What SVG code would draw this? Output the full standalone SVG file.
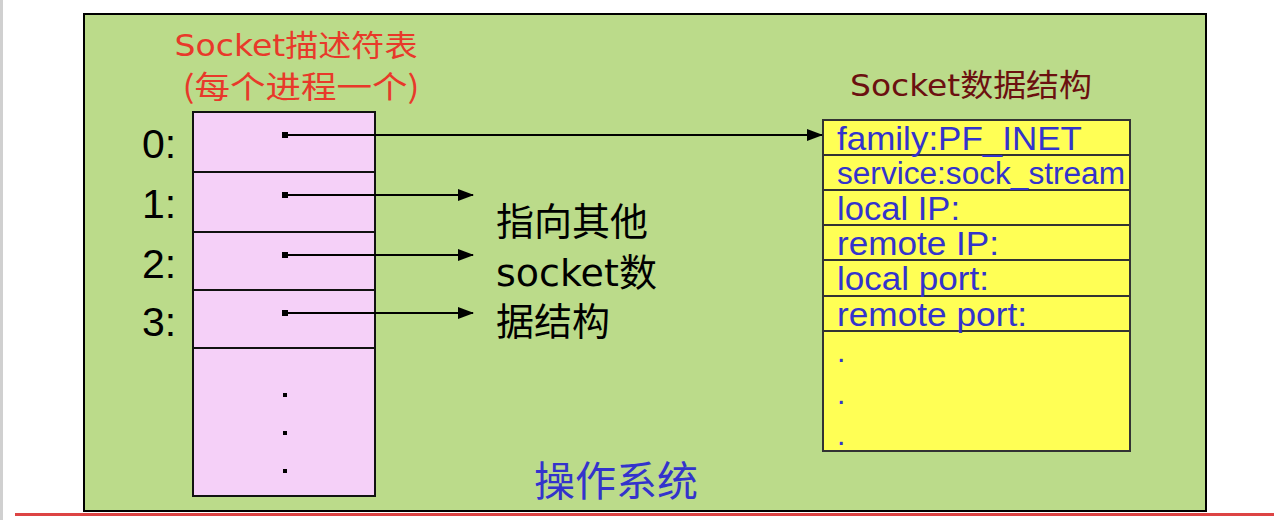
<svg xmlns="http://www.w3.org/2000/svg" width="1274" height="520" viewBox="0 0 1274 520">
<defs>
<style>
.lat{font-family:"DejaVu Sans","Noto Sans","Noto Sans CJK SC",sans-serif}
.cjk{font-family:"Noto Sans CJK SC",sans-serif}
.ar{font-family:"Liberation Sans",Arial,sans-serif;fill:#3333CC}
.cell{fill:#F5D0F8;stroke:#111;stroke-width:2}
.ycell{fill:#FFFF55;stroke:#333;stroke-width:2}
.conn{stroke:#000;stroke-width:2;fill:none}
</style>
<marker id="ah" markerWidth="16" markerHeight="12" refX="15" refY="6" orient="auto" markerUnits="userSpaceOnUse">
<path d="M0,0 L16,6 L0,12 Z" fill="#000"/>
</marker>
</defs>
<rect x="0" y="0" width="1274" height="520" fill="#fff"/>
<rect x="0" y="0" width="3" height="520" fill="#d0d0d0"/>
<rect id="os" x="84" y="14" width="1122" height="497" fill="#BBDB8A" stroke="#000" stroke-width="2"/>
<rect x="15" y="513" width="1259" height="3" fill="#DD4444"/>

<g id="descTitle">
<text x="296" y="56" text-anchor="middle" class="lat" font-size="30" fill="#E8392A" textLength="243" lengthAdjust="spacingAndGlyphs">Socket<tspan class="cjk">描述符表</tspan></text>
<text x="301" y="98" text-anchor="middle" class="cjk" font-size="31" fill="#E8392A" textLength="237" lengthAdjust="spacingAndGlyphs">(每个进程一个)</text>
</g>

<g id="descTable">
<rect class="cell" x="193" y="112" width="182" height="60"/>
<rect class="cell" x="193" y="172" width="182" height="60"/>
<rect class="cell" x="193" y="232" width="182" height="58"/>
<rect class="cell" x="193" y="290" width="182" height="58"/>
<rect class="cell" x="193" y="348" width="182" height="148"/>
<rect x="283" y="393" width="4" height="4" fill="#000"/>
<rect x="283" y="431" width="4" height="4" fill="#000"/>
<rect x="283" y="469" width="4" height="4" fill="#000"/>
</g>

<g id="indexLabels" font-family="'Liberation Sans',Arial,sans-serif" font-size="41" fill="#000">
<text x="142" y="158">0:</text>
<text x="142" y="218">1:</text>
<text x="142" y="278">2:</text>
<text x="142" y="336">3:</text>
</g>

<g id="otherLabel" class="cjk" font-size="38" fill="#000">
<text x="496" y="235">指向其他</text>
<text x="496" y="286"><tspan class="lat">socket</tspan>数</text>
<text x="496" y="335">据结构</text>
</g>

<g id="sockTitle">
<text x="850" y="96" class="lat" font-size="31" fill="#6B1010" textLength="242" lengthAdjust="spacingAndGlyphs">Socket<tspan class="cjk">数据结构</tspan></text>
</g>

<g id="sockStruct">
<rect class="ycell" x="823" y="120" width="307" height="35"/>
<rect class="ycell" x="823" y="155" width="307" height="35"/>
<rect class="ycell" x="823" y="190" width="307" height="35"/>
<rect class="ycell" x="823" y="225" width="307" height="35"/>
<rect class="ycell" x="823" y="260" width="307" height="36"/>
<rect class="ycell" x="823" y="296" width="307" height="35"/>
<rect class="ycell" x="823" y="331" width="307" height="120"/>
<text class="ar" x="837" y="150" font-size="34" textLength="245" lengthAdjust="spacingAndGlyphs">family:PF_INET</text>
<text class="ar" x="837" y="184" font-size="31" textLength="288" lengthAdjust="spacingAndGlyphs">service:sock_stream</text>
<text class="ar" x="837" y="220" font-size="34" textLength="123" lengthAdjust="spacingAndGlyphs">local IP:</text>
<text class="ar" x="837" y="255" font-size="34" textLength="162" lengthAdjust="spacingAndGlyphs">remote IP:</text>
<text class="ar" x="837" y="290" font-size="34" textLength="152" lengthAdjust="spacingAndGlyphs">local port:</text>
<text class="ar" x="837" y="326" font-size="34" textLength="190" lengthAdjust="spacingAndGlyphs">remote port:</text>
<text class="ar" x="837" y="362" font-size="30">.</text>
<text class="ar" x="837" y="404" font-size="30">.</text>
<text class="ar" x="837" y="445" font-size="30">.</text>
</g>

<g id="osLabel">
<text x="534" y="496" class="cjk" font-size="41" fill="#3333CC">操作系统</text>
</g>

<g id="connectors">
<rect x="282" y="132" width="6" height="6" fill="#000"/>
<rect x="282" y="192" width="6" height="6" fill="#000"/>
<rect x="282" y="252" width="6" height="6" fill="#000"/>
<rect x="282" y="310" width="6" height="6" fill="#000"/>
<line class="conn" x1="285" y1="135" x2="822" y2="135" marker-end="url(#ah)"/>
<line class="conn" x1="285" y1="195" x2="473" y2="195" marker-end="url(#ah)"/>
<line class="conn" x1="285" y1="255" x2="473" y2="255" marker-end="url(#ah)"/>
<line class="conn" x1="285" y1="313" x2="473" y2="313" marker-end="url(#ah)"/>
</g>
</svg>
